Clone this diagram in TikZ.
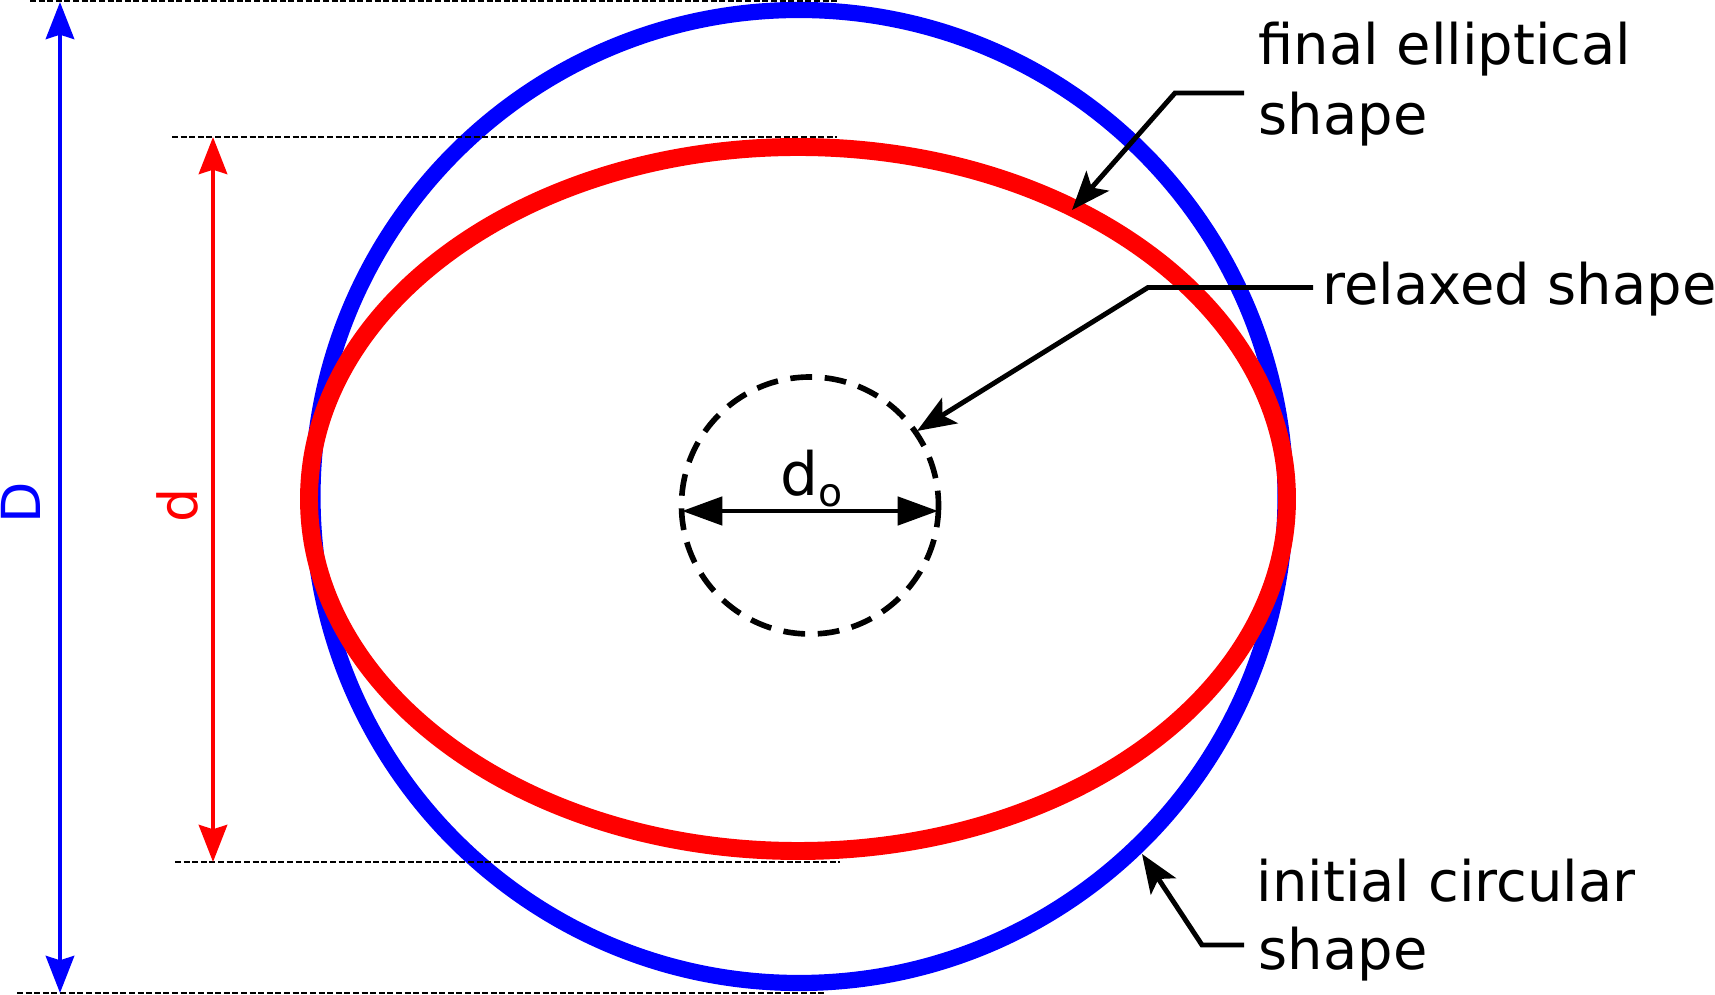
\documentclass[tikz,border=0pt]{standalone}
\usepackage{fontspec}
\setmainfont{DejaVu Sans}
\usetikzlibrary{arrows.meta}
\begin{document}
\begin{tikzpicture}[x=0.01cm, y=-0.01cm,
  every node/.style={inner sep=0pt, font=\fontsize{15.9pt}{18pt}\selectfont},
  dimline/.style={black, line width=0.57pt, dash pattern=on 1.7pt off 0.75pt},
  blueline/.style={blue, line width=1.4pt, {Stealth[length=10.5pt, width=8pt, inset=1.2pt]}-{Stealth[length=10.5pt, width=8pt, inset=1.2pt]}},
  redline/.style={red, line width=1.4pt, {Stealth[length=10.5pt, width=8pt, inset=1.2pt]}-{Stealth[length=10.5pt, width=8pt, inset=1.2pt]}},
  leader/.style={black, line width=1.4pt, line join=miter, -{Stealth[length=11pt, width=8.5pt, inset=2.5pt]}},
  dobar/.style={black, line width=1.3pt, {Triangle[length=11.5pt, width=8pt]}-{Triangle[length=11.5pt, width=8pt]}},
  relaxedcircle/.style={black, line width=1.6pt, dash pattern=on 6.2pt off 3.6pt}
]
\useasboundingbox (0,0) rectangle (1715,995);

% shapes
\draw[blue, line width=4.6pt] (799,496.5) ellipse [x radius=486.5, y radius=486.5];
\draw[red, line width=5.1pt] (798,499) ellipse [x radius=489, y radius=352];
\draw[relaxedcircle] (810,505.5) ellipse [x radius=128.5, y radius=128.5];

% dimension extension lines
\coordinate (l1a) at (30,1);    \coordinate (l1b) at (837,1);
\coordinate (l2a) at (172,137); \coordinate (l2b) at (837,137);
\coordinate (l3a) at (175,862); \coordinate (l3b) at (840,862);
\coordinate (l4a) at (17,993);  \coordinate (l4b) at (825,993);
\draw[dimline] (l1a) -- (l1b);
\draw[dimline] (l2a) -- (l2b);
\draw[dimline] (l3a) -- (l3b);
\draw[dimline] (l4a) -- (l4b);

% dimension arrows
\coordinate (Dtop) at (60,2);   \coordinate (Dbot) at (60,993);
\coordinate (dtop) at (213,137); \coordinate (dbot) at (213,862);
\draw[blueline] (Dtop) -- (Dbot);
\draw[redline] (dtop) -- (dbot);
\node[blue, rotate=90, font=\fontsize{15.3pt}{18pt}\selectfont] (Dlab) at (21,503) {D};
\node[red, rotate=90, font=\fontsize{15.3pt}{18pt}\selectfont] (dlab) at (177,505) {d};

% d_o
\coordinate (doL) at (682,511); \coordinate (doR) at (938,511);
\draw[dobar] (doL) -- (doR);
\node[anchor=base west, font=\fontsize{17pt}{18pt}\selectfont] (dolab) at (780,496) {d\raisebox{-3.1pt}{\fontsize{11.2pt}{11pt}\selectfont o}};

% labels
\node[anchor=base west] (fe1) at (1258,65) {final elliptical};
\node[anchor=base west] (fe2) at (1258,135) {shape};
\node[anchor=base west] (rs) at (1322,305) {relaxed shape};
\node[anchor=base west] (ic1) at (1256,902) {initial circular};
\node[anchor=base west] (ic2) at (1258,970) {shape};

% leaders
\coordinate (feS) at (1244,93);  \coordinate (feK) at (1175,93);  \coordinate (feT) at (1072,210);
\coordinate (rsS) at (1313,287.5); \coordinate (rsK) at (1148,287.5); \coordinate (rsT) at (917,431);
\coordinate (icS) at (1244,945); \coordinate (icK) at (1202,945); \coordinate (icT) at (1142,854);
\draw[leader] (feS) -- (feK) -- (feT);
\draw[leader] (rsS) -- (rsK) -- (rsT);
\draw[leader] (icS) -- (icK) -- (icT);
\end{tikzpicture}
\end{document}
